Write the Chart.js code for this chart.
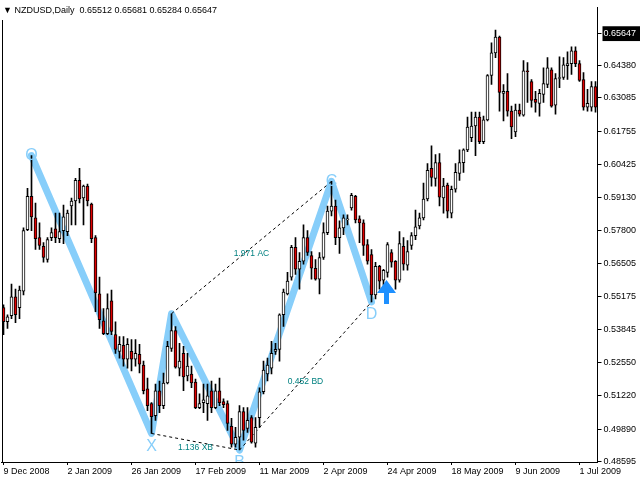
<!DOCTYPE html>
<html>
<head>
<meta charset="utf-8">
<script src="https://cdn.jsdelivr.net/npm/chart.js@4.4.1/dist/chart.umd.min.js"></script>
<style>
  html, body { margin: 0; padding: 0; background: #fff; }
  canvas { display: block; }
</style>
</head>
<body>
<canvas id="chart" width="640" height="480"></canvas>
<script>
// NZDUSD daily bars, 9 Dec 2008 .. early Jul 2009
const opens = [
  0.5473, 0.5417, 0.5441, 0.5516, 0.5473, 0.5539, 0.5784, 0.5917, 0.5831, 0.5752,
  0.5717, 0.5665, 0.5752, 0.5787, 0.5748, 0.5780, 0.5776, 0.5878, 0.5898, 0.5980,
  0.5910, 0.5957, 0.5886, 0.5752, 0.5528, 0.5421, 0.5370, 0.5500, 0.5366, 0.5299,
  0.5323, 0.5268, 0.5299, 0.5268, 0.5287, 0.5244, 0.5150, 0.5091, 0.5043, 0.5142,
  0.5083, 0.5173, 0.5311, 0.5382, 0.5232, 0.5291, 0.5201, 0.5209, 0.5177, 0.5075,
  0.5095, 0.5091, 0.5142, 0.5075, 0.5142, 0.5099, 0.5091, 0.5000, 0.4929, 0.4957,
  0.5059, 0.4992, 0.5035, 0.4933, 0.5035, 0.5138, 0.5209, 0.5232, 0.5299, 0.5307,
  0.5445, 0.5528, 0.5595, 0.5713, 0.5626, 0.5658, 0.5752, 0.5681, 0.5630, 0.5587,
  0.5673, 0.5772, 0.5858, 0.5878, 0.5752, 0.5791, 0.5823, 0.5870, 0.5917, 0.5827,
  0.5811, 0.5724, 0.5685, 0.5524, 0.5638, 0.5583, 0.5614, 0.5693, 0.5658, 0.5583,
  0.5717, 0.5642, 0.5721, 0.5760, 0.5799, 0.5831, 0.5906, 0.6028, 0.5988, 0.6051,
  0.5910, 0.5961, 0.5850, 0.5945, 0.6008, 0.6051, 0.6102, 0.6150, 0.6197, 0.6232,
  0.6134, 0.6221, 0.6398, 0.6488, 0.6551, 0.6327, 0.6335, 0.6256, 0.6173, 0.6260,
  0.6240, 0.6417, 0.6374, 0.6303, 0.6287, 0.6323, 0.6362, 0.6421, 0.6280, 0.6386,
  0.6390, 0.6437, 0.6445, 0.6496, 0.6445, 0.6382, 0.6272, 0.6272, 0.6354
];
const highs = [
  0.5484, 0.5445, 0.5567, 0.5547, 0.5559, 0.5791, 0.5949, 0.6079, 0.5890, 0.5811,
  0.5732, 0.5752, 0.5791, 0.5850, 0.5850, 0.5882, 0.5862, 0.5910, 0.5988, 0.6028,
  0.5961, 0.5965, 0.5890, 0.5760, 0.5595, 0.5469, 0.5528, 0.5543, 0.5417, 0.5358,
  0.5358, 0.5350, 0.5346, 0.5346, 0.5327, 0.5260, 0.5193, 0.5095, 0.5169, 0.5181,
  0.5213, 0.5339, 0.5449, 0.5398, 0.5331, 0.5319, 0.5291, 0.5240, 0.5189, 0.5130,
  0.5169, 0.5169, 0.5181, 0.5169, 0.5193, 0.5110, 0.5102, 0.5032, 0.4996, 0.5083,
  0.5075, 0.5075, 0.5043, 0.5035, 0.5154, 0.5260, 0.5272, 0.5339, 0.5331, 0.5449,
  0.5547, 0.5614, 0.5721, 0.5752, 0.5693, 0.5803, 0.5780, 0.5697, 0.5665, 0.5693,
  0.5811, 0.5878, 0.5976, 0.5902, 0.5819, 0.5843, 0.5843, 0.5929, 0.5921, 0.5839,
  0.5823, 0.5744, 0.5705, 0.5654, 0.5642, 0.5626, 0.5732, 0.5705, 0.5661, 0.5776,
  0.5752, 0.5740, 0.5772, 0.5862, 0.5850, 0.5969, 0.6047, 0.6118, 0.6083, 0.6087,
  0.5988, 0.5969, 0.5957, 0.6047, 0.6102, 0.6106, 0.6232, 0.6252, 0.6252, 0.6252,
  0.6236, 0.6402, 0.6528, 0.6579, 0.6555, 0.6362, 0.6406, 0.6276, 0.6284, 0.6284,
  0.6457, 0.6449, 0.6382, 0.6335, 0.6343, 0.6429, 0.6469, 0.6429, 0.6406, 0.6472,
  0.6469, 0.6492, 0.6512, 0.6512, 0.6457, 0.6410, 0.6343, 0.6374, 0.6374
];
const lows = [
  0.5366, 0.5390, 0.5429, 0.5413, 0.5429, 0.5524, 0.5780, 0.5780, 0.5705, 0.5705,
  0.5654, 0.5654, 0.5740, 0.5732, 0.5732, 0.5728, 0.5760, 0.5803, 0.5803, 0.5890,
  0.5803, 0.5878, 0.5732, 0.5457, 0.5390, 0.5366, 0.5366, 0.5366, 0.5291, 0.5272,
  0.5240, 0.5232, 0.5221, 0.5240, 0.5213, 0.5130, 0.5063, 0.4972, 0.5024, 0.5055,
  0.5071, 0.5169, 0.5299, 0.5232, 0.5201, 0.5142, 0.5181, 0.5154, 0.5071, 0.5071,
  0.5055, 0.5024, 0.5055, 0.5071, 0.5083, 0.5075, 0.4984, 0.4917, 0.4917, 0.4906,
  0.4945, 0.4976, 0.4933, 0.4917, 0.4996, 0.5130, 0.5181, 0.5209, 0.5287, 0.5260,
  0.5398, 0.5524, 0.5583, 0.5606, 0.5547, 0.5646, 0.5681, 0.5587, 0.5583, 0.5528,
  0.5665, 0.5764, 0.5839, 0.5724, 0.5689, 0.5764, 0.5803, 0.5862, 0.5811, 0.5732,
  0.5681, 0.5646, 0.5496, 0.5508, 0.5547, 0.5563, 0.5595, 0.5634, 0.5547, 0.5575,
  0.5622, 0.5622, 0.5705, 0.5744, 0.5787, 0.5823, 0.5898, 0.5957, 0.5957, 0.5878,
  0.5850, 0.5831, 0.5831, 0.5933, 0.5980, 0.6012, 0.6095, 0.6134, 0.6079, 0.6126,
  0.6126, 0.6217, 0.6362, 0.6469, 0.6256, 0.6217, 0.6236, 0.6146, 0.6154, 0.6236,
  0.6236, 0.6291, 0.6272, 0.6252, 0.6236, 0.6291, 0.6350, 0.6272, 0.6244, 0.6350,
  0.6382, 0.6382, 0.6402, 0.6433, 0.6374, 0.6260, 0.6256, 0.6256, 0.6252
];
const closes = [
  0.5417, 0.5437, 0.5516, 0.5445, 0.5543, 0.5780, 0.5917, 0.5835, 0.5748, 0.5721,
  0.5673, 0.5744, 0.5772, 0.5752, 0.5776, 0.5835, 0.5850, 0.5898, 0.5980, 0.5906,
  0.5957, 0.5898, 0.5748, 0.5532, 0.5425, 0.5370, 0.5469, 0.5378, 0.5307, 0.5327,
  0.5268, 0.5327, 0.5268, 0.5291, 0.5248, 0.5142, 0.5083, 0.5039, 0.5142, 0.5083,
  0.5173, 0.5319, 0.5382, 0.5236, 0.5260, 0.5197, 0.5240, 0.5173, 0.5075, 0.5091,
  0.5106, 0.5122, 0.5075, 0.5142, 0.5095, 0.5087, 0.5012, 0.4929, 0.4957, 0.5059,
  0.4984, 0.5024, 0.4937, 0.4996, 0.5138, 0.5224, 0.5244, 0.5291, 0.5307, 0.5445,
  0.5535, 0.5579, 0.5713, 0.5626, 0.5658, 0.5752, 0.5693, 0.5630, 0.5587, 0.5673,
  0.5772, 0.5858, 0.5878, 0.5752, 0.5791, 0.5831, 0.5827, 0.5921, 0.5823, 0.5811,
  0.5721, 0.5658, 0.5524, 0.5638, 0.5579, 0.5622, 0.5724, 0.5654, 0.5583, 0.5728,
  0.5646, 0.5697, 0.5760, 0.5795, 0.5831, 0.5906, 0.6020, 0.5992, 0.6051, 0.5913,
  0.5957, 0.5858, 0.5945, 0.6012, 0.6051, 0.6102, 0.6193, 0.6197, 0.6232, 0.6134,
  0.6221, 0.6398, 0.6488, 0.6551, 0.6331, 0.6335, 0.6256, 0.6193, 0.6260, 0.6244,
  0.6417, 0.6413, 0.6299, 0.6291, 0.6327, 0.6366, 0.6429, 0.6276, 0.6386, 0.6390,
  0.6441, 0.6445, 0.6496, 0.6445, 0.6378, 0.6272, 0.6287, 0.6354, 0.6272
];

// time axis: a label every 16 bars
const dateLabels = ['9 Dec 2008', '2 Jan 2009', '26 Jan 2009', '17 Feb 2009', '11 Mar 2009',
  '2 Apr 2009', '24 Apr 2009', '18 May 2009', '9 Jun 2009', '1 Jul 2009'];
const tickStep = 16;

// price axis
const priceTicks = [0.48595, 0.49890, 0.51220, 0.52550, 0.53845, 0.55175, 0.56505,
  0.57800, 0.59130, 0.60425, 0.61755, 0.63085, 0.64380, 0.65647];
const priceMin = 0.48583;
const priceMax = 0.66693;

// header: symbol + O H L C of the last bar
const symbolTitle = 'NZDUSD,Daily';
const lastBar = [0.65512, 0.65681, 0.65284, 0.65647];

// harmonic pattern pivots
const patternNames = ['O', 'X', 'A', 'B', 'C', 'D'];
const patternLabels = ['O', 'X', '', 'B', 'C', 'D'];
const patternBars = [7, 37, 42, 59, 82, 92];
const patternPrices = [0.6079, 0.4972, 0.5449, 0.4906, 0.5976, 0.5496];
const ratioLegs = [['X', 'B'], ['A', 'C'], ['B', 'D']];
const ratioTexts = ['1.136 XB', '1.971 AC', '0.452 BD'];

// buy signal arrow
const arrowBar = 96;
const arrowPrice = 0.5583;

const fontFamily = '"Liberation Sans", Arial, sans-serif';
const axisFont = { family: fontFamily, size: 9 };

const barIndex = opens.map((_, i) => i);
const isBear = (i) => closes[i] < opens[i];

const zigzag = barIndex.map(() => null);
patternBars.forEach((b, k) => { zigzag[b] = patternPrices[k]; });

const legLine = (leg) => {
  const data = barIndex.map(() => null);
  leg.forEach((name) => {
    const k = patternNames.indexOf(name);
    data[patternBars[k]] = patternPrices[k];
  });
  return data;
};

const overlay = {
  id: 'overlay',
  afterDatasetsDraw(chart) {
    const { ctx, chartArea: a } = chart;
    const x = chart.scales.x;
    const y = chart.scales.y;
    ctx.save();
    ctx.beginPath();
    ctx.rect(a.left, a.top, a.right - a.left, a.bottom - a.top);
    ctx.clip();

    // ratio texts on the dotted legs
    ctx.font = '8.5px ' + fontFamily;
    ctx.fillStyle = '#008080';
    ctx.textAlign = 'center';
    ctx.textBaseline = 'middle';
    ratioLegs.forEach((leg, n) => {
      const i = patternNames.indexOf(leg[0]);
      const j = patternNames.indexOf(leg[1]);
      const px = (x.getPixelForValue(patternBars[i]) + x.getPixelForValue(patternBars[j])) / 2;
      const py = (y.getPixelForValue(patternPrices[i]) + y.getPixelForValue(patternPrices[j])) / 2 + 6;
      ctx.fillText(ratioTexts[n], px, py);
    });

    // pivot letters
    ctx.font = '16px ' + fontFamily;
    ctx.fillStyle = '#87cefa';
    patternLabels.forEach((txt, k) => {
      if (!txt) return;
      const other = k === 0 ? patternPrices[1] : patternPrices[k - 1];
      const isHigh = patternPrices[k] > other;
      const px = x.getPixelForValue(patternBars[k]);
      const py = y.getPixelForValue(patternPrices[k]) + (isHigh ? 0 : 13);
      ctx.fillText(txt, px, py);
    });

    // up arrow
    const ax = x.getPixelForValue(arrowBar) - 1;
    const ay = y.getPixelForValue(arrowPrice);
    ctx.fillStyle = '#1e90ff';
    ctx.beginPath();
    ctx.moveTo(ax, ay);
    ctx.lineTo(ax + 9.5, ay + 13);
    ctx.lineTo(ax + 2.5, ay + 13);
    ctx.lineTo(ax + 2.5, ay + 24);
    ctx.lineTo(ax - 2.5, ay + 24);
    ctx.lineTo(ax - 2.5, ay + 13);
    ctx.lineTo(ax - 9.5, ay + 13);
    ctx.closePath();
    ctx.fill();
    ctx.restore();
  },
  afterDraw(chart) {
    const { ctx, chartArea: a } = chart;
    ctx.save();
    ctx.fillStyle = '#000';
    ctx.fillRect(2, 20, 1, a.bottom - 20);
    ctx.font = '9px ' + fontFamily;
    ctx.textBaseline = 'middle';
    ctx.fillText('\u25BC ' + symbolTitle + '  ' + lastBar.map(v => v.toFixed(5)).join(' '), 3, 11);
    ctx.restore();
  }
};

const dashed = {
  type: 'line',
  borderColor: '#000',
  borderWidth: 1,
  borderDash: [3, 3],
  pointRadius: 0,
  spanGaps: true,
  order: 2
};

new Chart(document.getElementById('chart'), {
  type: 'bar',
  data: {
    labels: barIndex,
    datasets: [
      {
        label: 'body',
        order: 0,
        data: barIndex.map(i => [opens[i], closes[i]]),
        backgroundColor: barIndex.map(i => isBear(i) ? '#e00000' : '#ffffff'),
        borderColor: '#000',
        borderWidth: 1,
        borderSkipped: false,
        barThickness: 3,
        minBarLength: 1,
        grouped: false
      },
      {
        label: 'wick',
        order: 1,
        data: barIndex.map(i => [lows[i], highs[i]]),
        backgroundColor: '#000',
        borderWidth: 0,
        barThickness: 1,
        grouped: false
      },
      ...ratioLegs.map(leg => Object.assign({ label: leg.join(''), data: legLine(leg) }, dashed)),
      {
        type: 'line',
        label: 'pattern',
        order: 3,
        data: zigzag,
        borderColor: '#87cefa',
        borderWidth: 7,
        borderJoinStyle: 'round',
        borderCapStyle: 'round',
        pointRadius: 0,
        spanGaps: true
      }
    ]
  },
  options: {
    responsive: false,
    animation: false,
    devicePixelRatio: 1,
    events: [],
    layout: { padding: { left: 1.5, top: 2, right: 0, bottom: 0 } },
    plugins: { legend: { display: false }, tooltip: { enabled: false } },
    scales: {
      x: {
        type: 'category',
        offset: true,
        grid: { offset: false, drawOnChartArea: false, drawTicks: true, tickLength: 3, tickColor: '#000' },
        border: { color: '#000' },
        ticks: {
          autoSkip: false,
          maxRotation: 0,
          align: 'start',
          padding: 1,
          color: '#000',
          font: axisFont,
          callback: (v) => dateLabels[v / tickStep]
        },
        afterBuildTicks: (s) => { s.ticks = s.ticks.filter(t => t.value % tickStep === 0); },
        afterFit: (s) => { s.height = 18; }
      },
      y: {
        position: 'right',
        min: priceMin,
        max: priceMax,
        grid: { drawOnChartArea: false, drawTicks: true, tickLength: 4, tickColor: '#000' },
        border: { color: '#000' },
        ticks: {
          autoSkip: false,
          padding: 2,
          font: axisFont,
          color: (c) => (c.tick && c.tick.value === lastBar[3]) ? '#fff' : '#000',
          showLabelBackdrop: true,
          backdropColor: (c) => (c.tick && c.tick.value === lastBar[3]) ? '#000' : 'rgba(0,0,0,0)',
          backdropPadding: { top: 2, bottom: 2, left: 1, right: 8 },
          callback: (v) => v.toFixed(5)
        },
        afterBuildTicks: (s) => { s.ticks = priceTicks.map(v => ({ value: v })); },
        afterFit: (s) => { s.width = 42.5; }
      }
    }
  },
  plugins: [overlay]
});
</script>
</body>
</html>
